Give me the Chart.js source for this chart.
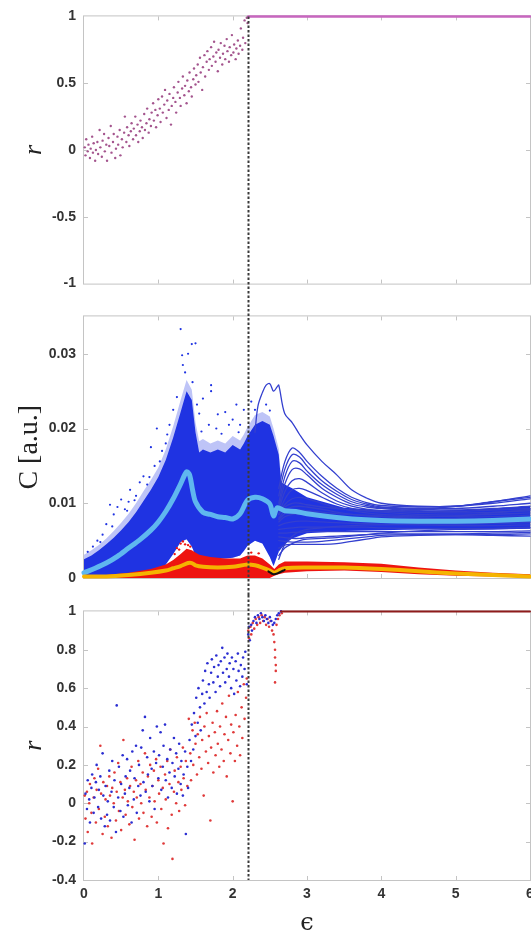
<!DOCTYPE html>
<html>
<head>
<meta charset="utf-8">
<script src="https://cdn.jsdelivr.net/npm/chart.js@4.4.1/dist/chart.umd.min.js"></script>
<style>
html, body { margin: 0; padding: 0; overflow: hidden; background: #fff; width: 531px; height: 936px; }
.panel { position: absolute; left: 0; }
canvas { display: block; }
</style>
</head>
<body>
<div class="panel" style="top:0"><canvas id="topChart" width="545" height="300"></canvas></div>
<div class="panel" style="top:300px"><canvas id="midChart" width="545" height="295"></canvas></div>
<div class="panel" style="top:595px"><canvas id="botChart" width="545" height="341"></canvas></div>
<script>
// tick values
const epsTicks = [0, 1, 2, 3, 4, 5, 6];
const rTopTicks = [-1, -0.5, 0, 0.5, 1];
const cTicks = [0, 0.01, 0.02, 0.03];
const rBotTicks = [-0.4, -0.2, 0, 0.2, 0.4, 0.6, 0.8, 1];
const epsCritical = 2.21;

// top panel: r vs eps
const topPts = [
  [0.01,0.02],[0.02,-0.04],[0.03,0.08],[0.05,-0.01],[0.06,0.04],[0.08,-0.06],[0.09,0.01],[0.11,0.10],[0.12,-0.02],[0.13,0.05],
  [0.15,-0.08],[0.16,0.00],[0.18,0.06],[0.19,-0.03],[0.21,0.15],[0.22,0.02],[0.24,-0.05],[0.25,0.07],[0.27,0.12],[0.28,-0.01],
  [0.30,0.04],[0.31,-0.08],[0.33,0.09],[0.34,0.03],[0.36,0.18],[0.37,-0.02],[0.39,0.06],[0.40,0.12],[0.42,-0.06],[0.43,0.01],
  [0.45,0.10],[0.46,0.04],[0.48,0.15],[0.49,-0.04],[0.51,0.08],[0.52,0.02],[0.54,0.13],[0.55,0.25],[0.57,0.06],[0.58,0.17],
  [0.60,0.11],[0.61,0.03],[0.63,0.14],[0.64,0.20],[0.66,0.08],[0.67,0.16],[0.69,0.25],[0.70,0.11],[0.72,0.19],[0.73,0.06],
  [0.75,0.14],[0.76,0.22],[0.78,0.17],[0.79,0.09],[0.81,0.27],[0.82,0.15],[0.84,0.20],[0.85,0.31],[0.87,0.13],[0.88,0.23],
  [0.90,0.18],[0.91,0.28],[0.93,0.35],[0.94,0.22],[0.96,0.30],[0.97,0.17],[0.99,0.26],[1.00,0.38],[1.02,0.31],[1.03,0.21],
  [1.05,0.40],[1.06,0.28],[1.08,0.34],[1.09,0.45],[1.11,0.24],[1.12,0.37],[1.14,0.30],[1.15,0.42],[1.17,0.19],[1.18,0.33],
  [1.20,0.39],[1.21,0.47],[1.23,0.36],[1.24,0.28],[1.26,0.43],[1.27,0.51],[1.29,0.39],[1.30,0.33],[1.32,0.46],[1.33,0.55],
  [1.35,0.41],[1.36,0.48],[1.38,0.35],[1.39,0.52],[1.41,0.44],[1.42,0.58],[1.44,0.47],[1.45,0.40],[1.47,0.53],[1.48,0.61],
  [1.50,0.49],[1.51,0.56],[1.53,0.64],[1.54,0.51],[1.56,0.69],[1.57,0.58],[1.59,0.45],[1.60,0.62],[1.62,0.71],[1.63,0.55],
  [1.65,0.66],[1.66,0.74],[1.68,0.60],[1.69,0.68],[1.71,0.77],[1.72,0.63],[1.74,0.70],[1.75,0.81],[1.77,0.66],[1.78,0.73],
  [1.80,0.59],[1.81,0.75],[1.83,0.69],[1.84,0.80],[1.86,0.64],[1.87,0.72],[1.89,0.78],[1.90,0.68],[1.92,0.83],[1.93,0.74],
  [1.95,0.66],[1.96,0.77],[1.98,0.71],[1.99,0.86],[2.01,0.73],[2.02,0.79],[2.04,0.68],[2.05,0.76],[2.07,0.82],[2.08,0.72],
  [2.10,0.78],[2.11,0.91],[2.13,0.75],[2.14,0.84],[2.16,0.97],[2.17,0.80],[2.19,0.99],[2.20,0.95]
];
const topSyncEps = [2.21, 6];
const topSyncR = [1, 1];

// middle panel: C in units of 1e-3
const cloudEps = [0,0.1,0.2,0.3,0.4,0.5,0.6,0.7,0.8,0.9,1.0,1.1,1.2,1.3,1.38,1.45,1.5,1.55,1.6,1.7,1.8,1.9,2.0,2.1,2.15,2.2,2.3,2.4,2.5,2.55,2.62,2.66];
const cloudHi = [2.5,3.0,3.7,4.5,5.4,6.4,7.5,8.8,10.3,11.8,13.5,15.8,18.8,22.2,25.0,23.8,19.5,16.8,17.2,16.8,17.2,16.8,17.8,17.2,18.0,19.0,20.5,21.0,20.5,19.0,16.5,12.0];
const cloudFuzz = [3.1,3.7,4.4,5.3,6.3,7.4,8.6,10.0,11.6,13.1,14.8,17.2,20.3,23.8,26.5,25.2,20.8,18.3,18.6,18.0,18.4,18.0,19.0,18.4,19.2,20.2,21.8,22.2,21.6,20.0,17.3,12.6];
const cloudLo = [0,0,0,0,0,0,0,0,0,0,0,1.8,3.2,4.8,5.2,4.2,3.0,2.8,2.7,2.6,2.6,2.6,2.7,3.0,3.6,4.3,5.0,4.6,2.8,1.6,3.5,6.0];
const cloudOutliers = [
  [0.05,3.5],[0.12,4.2],[0.18,5.0],[0.25,5.8],[0.30,7.2],[0.35,9.8],[0.40,8.5],[0.45,9.5],[0.50,10.5],[0.55,9.2],
  [0.60,10.2],[0.62,11.8],[0.70,11.0],[0.75,12.8],[0.80,13.6],[0.85,12.5],[0.90,17.5],[0.95,15.0],[0.98,20.0],[1.05,17.0],
  [1.10,18.0],[1.15,20.5],[1.20,22.5],[1.25,24.2],[1.30,33.3],[1.32,29.8],[1.33,28.5],[1.36,27.5],[1.40,30.0],[1.45,31.3],
  [1.50,31.4],[1.46,26.2],[1.52,23.2],[1.55,22.0],[1.60,24.0],[1.71,25.8],[1.71,25.0],[1.68,20.5],[1.80,21.9],[1.78,20.0],
  [1.90,22.2],[1.95,20.5],[2.00,21.2],[2.05,23.2],[2.10,20.5],[2.15,22.5],[2.25,23.6],[2.30,22.5],[2.45,23.2],[2.50,22.4],
  [0.22,4.8],[0.38,6.9],[0.58,9.0],[0.68,10.4],[0.88,13.5],[1.02,15.6],[1.12,19.2],[1.58,19.6],[1.85,19.3],[2.08,19.5]
];
const coreEps = [2.62,2.7,2.8,3.0,3.5,4.0,4.5,5.0,5.5,6.0];
const coreHi = [13.0,12.5,12.0,10.8,9.4,9.1,9.0,9.1,9.3,9.6];
const coreLo = [3.5,4.5,5.3,6.0,6.3,6.4,6.5,6.5,6.5,6.6];
const archEps = [2.30,2.34,2.40,2.45,2.50,2.55,2.60];
const archC = [19.5,23.0,24.8,25.8,26.0,25.0,25.6];
const trajEps = [2.62,2.7,2.8,2.9,3.0,3.2,3.4,3.6,3.8,4.0,4.5,5.0,5.5,6.0];
const trajC = [
  [25.8,22.0,20.8,19.2,17.8,15.6,13.8,11.8,10.7,10.0,9.6,9.6,10.2,11.0],
  [12.0,15.5,17.4,16.8,15.6,13.6,12.0,10.8,10.1,9.7,9.5,9.6,10.0,10.6],
  [11.0,14.5,16.5,16.2,15.0,13.0,11.6,10.5,9.9,9.5,9.3,9.3,9.6,10.0],
  [10.0,13.5,15.6,15.4,14.3,12.5,11.2,10.2,9.7,9.4,9.2,9.1,9.3,9.6],
  [9.5,12.5,14.5,14.6,13.8,12.0,10.8,9.9,9.5,9.3,9.0,8.9,9.1,9.3],
  [9.0,11.5,13.0,13.3,12.8,11.4,10.3,9.6,9.2,9.0,8.8,8.7,8.8,9.0],
  [8.5,10.5,11.8,12.0,11.7,10.8,9.9,9.3,9.0,8.8,8.5,8.4,8.5,8.7],
  [8.5,9.8,10.6,10.8,10.6,10.0,9.4,9.0,8.7,8.5,8.3,8.2,8.2,8.4],
  [8.0,9.0,9.5,9.6,9.5,9.2,8.8,8.5,8.3,8.2,8.0,7.9,7.9,8.0],
  [7.5,8.2,8.5,8.6,8.6,8.4,8.2,8.0,7.9,7.8,7.7,7.5,7.5,7.6],
  [7.0,7.3,7.5,7.6,7.6,7.5,7.4,7.3,7.3,7.2,7.1,7.0,7.0,7.1],
  [6.5,6.6,6.7,6.8,6.8,6.8,6.8,6.8,6.8,6.7,6.6,6.6,6.6,6.7],
  [6.0,6.0,6.1,6.1,6.2,6.2,6.2,6.2,6.2,6.2,6.2,6.2,6.2,6.3],
  [5.5,5.4,5.3,5.3,5.4,5.5,5.6,5.7,5.8,5.9,5.9,5.9,6.0,6.1],
  [5.0,4.9,4.8,4.8,4.8,4.9,5.1,5.3,5.5,5.7,5.8,5.8,5.8,5.9],
  [4.0,4.4,4.5,4.5,4.5,4.5,4.6,4.9,5.2,5.5,5.7,5.8,5.7,5.6],
  [3.0,4.0,4.6,5.0,5.2,5.3,5.4,5.6,5.8,6.0,6.3,6.5,6.6,6.8],
  [2.5,4.5,5.6,6.2,6.5,6.7,6.9,7.0,7.1,7.1,7.2,7.2,7.3,7.4],
  [8.5,9.5,10.0,10.0,9.8,9.5,9.3,9.1,9.0,9.0,9.2,9.6,10.2,10.8],
  [7.8,8.6,9.0,9.1,9.0,8.8,8.6,8.5,8.4,8.3,8.2,8.3,8.7,9.2]
];
const meanEps = [0,0.15,0.3,0.45,0.6,0.75,0.9,1.0,1.1,1.2,1.3,1.38,1.42,1.46,1.5,1.6,1.7,1.8,1.9,2.0,2.1,2.2,2.3,2.4,2.5,2.55,2.6,2.7,2.85,3.0,3.5,4.0,4.5,5.0,5.5,6.0];
const meanC = [0.7,1.3,2.0,2.9,4.0,5.1,6.4,7.5,8.9,10.6,12.6,14.2,13.8,11.8,10.2,8.8,8.5,8.2,8.1,7.9,8.6,10.4,10.8,10.6,9.9,8.3,9.4,9.0,8.9,8.6,8.0,7.7,7.6,7.6,7.7,7.9];
const redEps = [0,0.3,0.6,0.9,1.1,1.2,1.3,1.38,1.45,1.55,1.7,1.9,2.1,2.2,2.3,2.4,2.5,2.56,2.62,2.7,3.0,3.5,4.0,4.5,5.0,5.5,6.0];
const redHi = [0.3,0.4,0.7,1.2,1.8,2.4,3.2,3.9,3.7,3.1,2.8,2.6,2.6,3.0,3.0,2.6,1.8,1.2,1.8,2.2,2.2,2.1,1.9,1.4,1.0,0.7,0.5];
const redLo = [0,0,0,0,0,0,0,0,0,0,0,0,0,0,0,0,0,0.3,0.5,0.7,0.9,1.0,0.8,0.5,0.3,0.2,0.1];
const redOutliers = [[1.22,3.2],[1.25,4.0],[1.28,3.8],[1.30,4.6],[1.33,4.9],[1.36,4.5],[1.40,4.4],[1.43,4.2],[2.25,3.4],[2.35,3.3]];
const yellowEps = [0,0.3,0.6,0.9,1.1,1.2,1.3,1.4,1.45,1.5,1.6,1.8,2.0,2.2,2.3,2.4,2.5,2.56,2.62,2.7,3.0,3.5,4.0,4.5,5.0,5.5,6.0];
const yellowC = [0.2,0.2,0.4,0.7,1.0,1.3,1.6,2.0,2.0,1.7,1.5,1.4,1.5,1.8,1.7,1.4,1.0,0.7,1.0,1.3,1.4,1.4,1.2,0.9,0.6,0.4,0.2];
const blackEps = [2.48,2.55,2.62,2.70];
const blackC = [0.9,0.5,0.7,1.1];

// bottom panel: r vs eps, two groups
const bluePts = [
  [0.01,-0.21],[0.02,0.05],[0.04,-0.03],[0.05,0.12],[0.07,0.02],[0.08,-0.10],[0.10,0.08],[0.11,0.15],[0.13,-0.05],[0.14,0.03],
  [0.16,0.11],[0.17,0.20],[0.19,-0.02],[0.20,0.07],[0.22,0.14],[0.23,-0.08],[0.25,0.26],[0.26,0.04],[0.28,-0.12],[0.29,0.09],
  [0.31,-0.06],[0.32,0.01],[0.34,0.17],[0.35,-0.09],[0.37,0.06],[0.38,0.22],[0.40,-0.02],[0.41,0.12],[0.43,-0.15],[0.44,0.51],
  [0.46,0.03],[0.47,0.19],[0.49,-0.04],[0.50,0.10],[0.52,0.25],[0.53,-0.07],[0.55,0.05],[0.56,0.14],[0.58,0.23],[0.59,-0.01],
  [0.61,0.08],[0.62,0.17],[0.64,-0.10],[0.65,0.27],[0.67,0.02],[0.68,0.13],[0.70,0.30],[0.71,-0.05],[0.73,0.09],[0.74,0.20],
  [0.76,0.04],[0.77,0.29],[0.79,0.38],[0.80,0.11],[0.82,0.45],[0.83,0.06],[0.85,0.24],[0.86,0.15],[0.88,0.01],[0.89,0.34],
  [0.91,0.18],[0.92,0.09],[0.94,0.27],[0.95,-0.03],[0.97,0.21],[0.98,0.40],[1.00,0.13],[1.01,0.25],[1.03,0.37],[1.04,0.07],
  [1.06,0.19],[1.07,0.30],[1.09,0.41],[1.10,0.12],[1.12,0.23],[1.13,0.03],[1.15,0.16],[1.16,0.28],[1.18,0.08],[1.19,0.21],
  [1.21,0.34],[1.22,0.14],[1.24,0.26],[1.25,0.05],[1.27,0.18],[1.28,0.31],[1.30,0.10],[1.31,0.22],[1.33,0.04],[1.34,0.15],
  [1.36,0.27],[1.37,-0.16],[1.39,0.19],[1.40,0.08],[1.42,0.33],[1.44,0.22],[1.45,0.41],[1.47,0.28],[1.48,0.47],[1.50,0.35],
  [1.51,0.55],[1.53,0.42],[1.54,0.60],[1.56,0.50],[1.57,0.38],[1.59,0.57],[1.60,0.64],[1.62,0.52],[1.63,0.69],[1.65,0.58],
  [1.66,0.73],[1.68,0.62],[1.69,0.55],[1.71,0.68],[1.72,0.75],[1.74,0.63],[1.75,0.71],[1.77,0.58],[1.78,0.77],[1.80,0.66],
  [1.81,0.72],[1.83,0.61],[1.84,0.74],[1.86,0.81],[1.87,0.68],[1.89,0.76],[1.90,0.63],[1.92,0.70],[1.93,0.78],[1.95,0.66],
  [1.96,0.73],[1.98,0.60],[1.99,0.76],[2.01,0.70],[2.02,0.57],[2.04,0.74],[2.05,0.64],[2.07,0.78],[2.08,0.69],[2.10,0.61],
  [2.11,0.72],[2.13,0.66],[2.14,0.76],[2.16,0.70],[2.17,0.79],[2.19,0.62],[2.21,0.88],[2.22,0.92],[2.23,0.85],[2.25,0.93],
  [2.26,0.90],[2.28,0.95],[2.30,0.97],[2.32,0.94],[2.34,0.98],[2.36,0.96],[2.38,0.99],[2.40,0.97],[2.42,0.95],[2.44,0.98],
  [2.46,0.96],[2.48,0.94],[2.50,0.97],[2.52,0.95],[2.54,0.93],[2.56,0.94],[2.58,0.96],[2.60,0.98],[2.62,0.99],[2.65,1.00]
];
const redPts = [
  [0.01,0.04],[0.02,-0.08],[0.04,0.06],[0.05,-0.15],[0.07,0.00],[0.08,0.10],[0.10,-0.05],[0.11,-0.21],[0.13,0.03],[0.14,0.13],
  [0.16,-0.10],[0.17,0.07],[0.19,0.18],[0.20,-0.03],[0.22,0.30],[0.23,0.05],[0.25,-0.16],[0.26,0.11],[0.28,-0.07],[0.29,0.02],
  [0.31,0.09],[0.32,-0.12],[0.34,0.14],[0.35,0.04],[0.37,-0.18],[0.38,0.08],[0.40,0.00],[0.41,0.16],[0.43,-0.09],[0.44,0.06],
  [0.46,0.21],[0.47,-0.04],[0.49,0.11],[0.50,-0.14],[0.52,0.03],[0.53,0.33],[0.55,0.07],[0.56,-0.06],[0.58,0.13],[0.59,0.01],
  [0.61,-0.11],[0.62,0.09],[0.64,0.19],[0.65,-0.02],[0.67,0.06],[0.68,-0.19],[0.70,0.12],[0.71,0.03],[0.73,0.22],[0.74,-0.08],
  [0.76,0.10],[0.77,0.00],[0.79,0.16],[0.80,-0.05],[0.82,0.26],[0.83,0.07],[0.85,-0.12],[0.86,0.14],[0.88,0.03],[0.89,0.20],
  [0.91,-0.07],[0.92,0.09],[0.94,0.17],[0.95,0.01],[0.97,0.23],[0.98,-0.10],[1.00,0.12],[1.01,0.05],[1.03,0.19],[1.04,-0.03],
  [1.06,0.08],[1.07,-0.21],[1.09,0.15],[1.10,0.02],[1.12,0.22],[1.13,-0.13],[1.15,0.10],[1.16,0.28],[1.18,-0.06],[1.19,-0.29],
  [1.21,0.06],[1.22,0.17],[1.24,0.00],[1.25,0.24],[1.27,0.11],[1.28,-0.04],[1.30,0.19],[1.31,0.07],[1.33,0.29],[1.34,0.13],
  [1.36,-0.01],[1.37,0.22],[1.39,0.09],[1.41,0.44],[1.43,0.26],[1.44,0.12],[1.46,0.38],[1.47,0.20],[1.49,0.42],[1.50,0.31],
  [1.52,0.15],[1.53,0.36],[1.55,0.24],[1.56,0.45],[1.58,0.18],[1.59,0.33],[1.61,0.04],[1.62,0.40],[1.64,0.27],[1.65,0.47],
  [1.67,0.21],[1.68,0.35],[1.70,-0.09],[1.71,0.29],[1.73,0.42],[1.74,0.16],[1.76,0.37],[1.77,0.25],[1.79,0.48],[1.80,0.31],
  [1.82,0.19],[1.83,0.40],[1.85,0.28],[1.86,0.52],[1.88,0.22],[1.89,0.36],[1.91,0.45],[1.92,0.14],[1.94,0.33],[1.95,0.56],
  [1.97,0.26],[1.98,0.41],[2.00,0.01],[2.01,0.37],[2.03,0.22],[2.04,0.46],[2.06,0.30],[2.07,0.58],[2.09,0.40],[2.10,0.25],
  [2.12,0.50],[2.13,0.34],[2.15,0.62],[2.16,0.44],[2.18,0.55],[2.19,0.65],[2.21,0.90],[2.22,0.86],[2.24,0.92],[2.25,0.88],
  [2.27,0.94],[2.29,0.91],[2.31,0.96],[2.33,0.93],[2.35,0.97],[2.37,0.94],[2.39,0.98],[2.41,0.95],[2.43,0.97],[2.45,0.93],
  [2.47,0.96],[2.49,0.92],[2.51,0.95],[2.53,0.90],[2.55,0.88],[2.56,0.84],[2.57,0.80],[2.57,0.76],[2.58,0.72],[2.58,0.69],
  [2.57,0.63],[2.59,0.93],[2.61,0.96],[2.63,0.98],[2.66,0.99]
];
const botSyncEps = [2.65, 6];
const botSyncR = [1, 1];

// helpers
const xy = (xs, ys, k = 1) => xs.map((x, i) => ({ x: x, y: ys[i] * k }));
const pts = (list, k = 1) => list.map(p => ({ x: p[0], y: p[1] * k }));
const mC = 0.001;

const tickFont = { family: "'Liberation Sans', Arial, sans-serif", size: 14, weight: 'bold' };

// frame + inward tick marks
const axisFrame = {
    id: 'axisFrame',
    beforeDatasetsDraw(chart) {
        const { ctx, chartArea: a, scales: { x, y } } = chart;
        ctx.save();
        ctx.strokeStyle = '#c4c4c4';
        ctx.lineWidth = 1;
        ctx.strokeRect(a.left - 0.5, a.top - 0.5, a.right - a.left + 1, a.bottom - a.top + 1);
        ctx.beginPath();
        epsTicks.slice(1, -1).forEach(v => {
            const px = Math.round(x.getPixelForValue(v)) + 0.5;
            ctx.moveTo(px, a.bottom); ctx.lineTo(px, a.bottom - 4);
            ctx.moveTo(px, a.top); ctx.lineTo(px, a.top + 4);
        });
        y.ticks.forEach(t => {
            if (t.value === y.min || t.value === y.max) return;
            const py = Math.round(y.getPixelForValue(t.value)) + 0.5;
            ctx.moveTo(a.left, py); ctx.lineTo(a.left + 4, py);
            ctx.moveTo(a.right, py); ctx.lineTo(a.right - 4, py);
        });
        ctx.stroke();
        ctx.restore();
    }
};

// dashed vertical line at the critical coupling, running through all panels
const criticalLine = {
    id: 'criticalLine',
    afterDatasetsDraw(chart, args, opts) {
        const { ctx, chartArea: a, scales: { x } } = chart;
        const px = Math.round(x.getPixelForValue(epsCritical)) + 0.5;
        ctx.save();
        ctx.strokeStyle = '#3a3a3a';
        ctx.lineWidth = 2;
        ctx.setLineDash([2.5, 2]);
        ctx.beginPath();
        ctx.moveTo(px, opts.fromTop ? a.top : 0);
        ctx.lineTo(px, opts.toBottom ? a.bottom : chart.height);
        ctx.stroke();
        ctx.restore();
    }
};

function yAxis(ticks, min, max, title, titleFont, titlePad) {
    return {
        type: 'linear', min: min, max: max,
        grid: { display: false, drawTicks: false },
        border: { display: false },
        afterBuildTicks: s => { s.ticks = ticks.map(v => ({ value: v })); },
        afterFit: s => { s.width = 84; },
        ticks: { padding: 8, color: '#333', font: tickFont, callback: v => String(v) },
        title: { display: true, text: title, color: '#222', font: titleFont, padding: { top: titlePad, bottom: 0 } }
    };
}

function xAxis(showLabels) {
    return {
        type: 'linear', min: 0, max: 6,
        display: showLabels,
        grid: { display: false, drawTicks: false },
        border: { display: false },
        afterBuildTicks: s => { s.ticks = epsTicks.map(v => ({ value: v })); },
        afterFit: s => { s.height = showLabels ? 56 : 0; },
        ticks: { padding: 6, color: '#333', font: tickFont, maxRotation: 0, autoSkip: false },
        title: {
            display: true, text: 'ϵ', color: '#222',
            font: { family: "'DejaVu Serif', 'DejaVu Sans', serif", size: 24, lineHeight: 1 },
            padding: { top: 0, bottom: 0 }
        }
    };
}

function dots(data, color, r, order) {
    return { data: data, showLine: false, pointRadius: r, pointBorderWidth: 0,
             pointBackgroundColor: color, borderColor: color, order: order, clip: 4 };
}
function curve(data, color, w, order, tension) {
    return { data: data, showLine: true, borderColor: color, borderWidth: w, pointRadius: 0,
             tension: tension || 0, fill: false, order: order, clip: 4,
             borderCapStyle: 'round', borderJoinStyle: 'round' };
}
function bandTop(data, color, order) {
    return { data: data, showLine: true, borderColor: 'transparent', borderWidth: 0, pointRadius: 0,
             backgroundColor: color, fill: '+1', order: order, tension: 0 };
}
function bandBottom(data, order) {
    return { data: data, showLine: true, borderColor: 'transparent', borderWidth: 0, pointRadius: 0,
             fill: false, order: order, tension: 0 };
}

function baseOptions(padding, yScale, showX, lineOpts) {
    return {
        responsive: false,
        animation: false,
        events: [],
        layout: { padding: padding },
        plugins: { legend: { display: false }, tooltip: { enabled: false }, criticalLine: lineOpts },
        scales: { x: xAxis(showX), y: yScale }
    };
}

const rFont = { family: "'Liberation Serif', 'DejaVu Serif', serif", size: 26, style: 'italic', lineHeight: 1 };
const cFont = { family: "'Liberation Serif', 'DejaVu Serif', serif", size: 28, lineHeight: 1 };

// top panel
new Chart(document.getElementById('topChart'), {
    type: 'line',
    data: {
        datasets: [
            curve(xy(topSyncEps, topSyncR), '#c766bf', 2.5, 1),
            dots(pts(topPts), '#a4558e', 1.2, 2)
        ]
    },
    options: baseOptions({ top: 14, right: 15, bottom: 11, left: 0 },
        yAxis(rTopTicks, -1, 1, 'r', rFont, 21), false, { fromTop: true, toBottom: false }),
    plugins: [axisFrame, criticalLine]
});

// middle panel
const blue = '#1f33e2';
const midSets = [
    bandTop(xy(cloudEps, cloudFuzz, mC), 'rgba(40, 58, 228, 0.3)', 100),
    bandBottom(xy(cloudEps, cloudLo, mC), 100),
    bandTop(xy(cloudEps, cloudHi, mC), blue, 99),
    bandBottom(xy(cloudEps, cloudLo, mC), 99),
    dots(pts(cloudOutliers, mC), blue, 1.1, 98),
    bandTop(xy(coreEps, coreHi, mC), blue, 97),
    bandBottom(xy(coreEps, coreLo, mC), 97)
];
trajC.forEach((row, i) => {
    const line = i === 0 ? xy(archEps, archC, mC).concat(xy(trajEps, row, mC)) : xy(trajEps, row, mC);
    midSets.push(curve(line, '#3440cf', 1.3, 96, 0.35));
});
midSets.push(
    curve(xy(meanEps, meanC, mC), '#5fb7ef', 5, 50, 0.3),
    bandTop(xy(redEps, redHi, mC), '#ee1410', 40),
    bandBottom(xy(redEps, redLo, mC), 40),
    dots(pts(redOutliers, mC), '#ee1410', 1.2, 41),
    curve(xy(yellowEps, yellowC, mC), '#f5b400', 4, 30, 0.3),
    curve(xy(blackEps, blackC, mC), '#111', 2, 20, 0.3)
);

new Chart(document.getElementById('midChart'), {
    type: 'line',
    data: { datasets: midSets },
    options: baseOptions({ top: 15, right: 15, bottom: 17, left: 0 },
        yAxis(cTicks, 0, 0.035, 'C [a.u.]', cFont, 16), false, { fromTop: false, toBottom: false }),
    plugins: [axisFrame, criticalLine]
});

// bottom panel
new Chart(document.getElementById('botChart'), {
    type: 'line',
    data: {
        datasets: [
            curve(xy(botSyncEps, botSyncR), '#8e1b1b', 2, 0),
            dots(pts(bluePts), '#2b2ed2', 1.3, 1),
            dots(pts(redPts), '#e03a3a', 1.3, 2)
        ]
    },
    options: baseOptions({ top: 12, right: 15, bottom: 0, left: 0 },
        yAxis(rBotTicks, -0.4, 1, 'r', rFont, 21), true, { fromTop: false, toBottom: true }),
    plugins: [axisFrame, criticalLine]
});
</script>
</body>
</html>
